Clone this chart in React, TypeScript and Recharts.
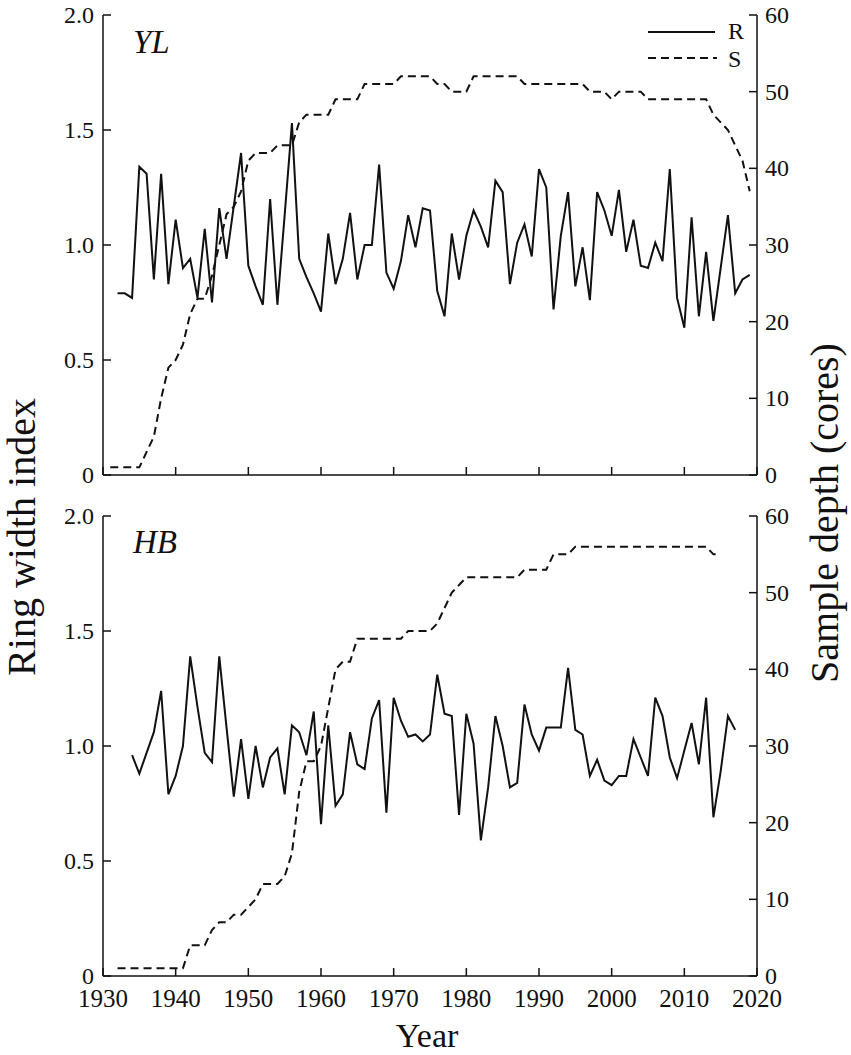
import { ComposedChart, Line, XAxis, YAxis, Legend } from "recharts";

// ring width index (R) and sample depth (S)
const ylRingStart = 1932;
const ylRing = [
  0.79, 0.79, 0.77, 1.34, 1.31, 0.85, 1.31, 0.83, 1.11, 0.9,
  0.94, 0.77, 1.07, 0.75, 1.16, 0.94, 1.17, 1.4, 0.91, 0.82,
  0.74, 1.2, 0.74, 1.13, 1.53, 0.94, 0.86, 0.79, 0.71, 1.05,
  0.83, 0.94, 1.14, 0.85, 1.0, 1.0, 1.35, 0.88, 0.81, 0.93,
  1.13, 0.99, 1.16, 1.15, 0.8, 0.69, 1.05, 0.85, 1.04, 1.15,
  1.08, 0.99, 1.28, 1.23, 0.83, 1.01, 1.09, 0.95, 1.33, 1.25,
  0.72, 1.04, 1.23, 0.82, 0.99, 0.76, 1.23, 1.15, 1.04, 1.24,
  0.97, 1.11, 0.91, 0.9, 1.01, 0.93, 1.33, 0.77, 0.64, 1.12,
  0.69, 0.97, 0.67, 0.9, 1.13, 0.79, 0.85, 0.87,
];
const ylDepthStart = 1931;
const ylDepth = [
  1, 1, 1, 1, 1, 3, 5, 10, 14, 15,
  17, 21, 23, 23, 26, 30, 34, 35, 37, 41,
  42, 42, 42, 43, 43, 43, 46, 47, 47, 47,
  47, 49, 49, 49, 49, 51, 51, 51, 51, 51,
  52, 52, 52, 52, 52, 51, 51, 50, 50, 50,
  52, 52, 52, 52, 52, 52, 52, 51, 51, 51,
  51, 51, 51, 51, 51, 51, 50, 50, 50, 49,
  50, 50, 50, 50, 49, 49, 49, 49, 49, 49,
  49, 49, 49, 47, 46, 45, 43, 41, 37,
];

const hbRingStart = 1934;
const hbRing = [
  0.96, 0.88, 0.97, 1.06, 1.24, 0.79, 0.87, 1.0, 1.39, 1.17,
  0.97, 0.93, 1.39, 1.08, 0.78, 1.03, 0.77, 1.0, 0.82, 0.95,
  0.99, 0.79, 1.09, 1.06, 0.96, 1.15, 0.66, 1.09, 0.74, 0.79,
  1.06, 0.92, 0.9, 1.12, 1.2, 0.71, 1.21, 1.11, 1.04, 1.05,
  1.02, 1.05, 1.31, 1.14, 1.13, 0.7, 1.14, 1.01, 0.59, 0.82,
  1.13, 1.0, 0.82, 0.84, 1.18, 1.05, 0.98, 1.08, 1.08, 1.08,
  1.34, 1.07, 1.05, 0.87, 0.94, 0.85, 0.83, 0.87, 0.87, 1.03,
  0.95, 0.87, 1.21, 1.13, 0.95, 0.86, 0.98, 1.1, 0.92, 1.21,
  0.69, 0.89, 1.13, 1.07,
];
const hbDepthStart = 1932;
const hbDepth = [
  1, 1, 1, 1, 1, 1, 1, 1, 1, 1,
  4, 4, 4, 6, 7, 7, 8, 8, 9, 10,
  12, 12, 12, 13, 16, 24, 28, 28, 30, 35,
  40, 41, 41, 44, 44, 44, 44, 44, 44, 44,
  45, 45, 45, 45, 46, 48, 50, 51, 52, 52,
  52, 52, 52, 52, 52, 52, 53, 53, 53, 53,
  55, 55, 55, 56, 56, 56, 56, 56, 56, 56,
  56, 56, 56, 56, 56, 56, 56, 56, 56, 56,
  56, 56, 55, 55,
];

const yearTicks = [1930, 1940, 1950, 1960, 1970, 1980, 1990, 2000, 2010, 2020];
const ringTicks = [0, 0.5, 1, 1.5, 2];
const depthTicks = [0, 10, 20, 30, 40, 50, 60];

const FONT = "Liberation Serif";
const INK = "#111111";

function buildRows(rStart: number, r: number[], sStart: number, s: number[]) {
  const first = Math.min(rStart, sStart);
  const last = Math.max(rStart + r.length, sStart + s.length) - 1;
  const rows = [];
  for (let y = first; y <= last; y++) {
    const ri = y - rStart;
    const si = y - sStart;
    rows.push({
      year: y,
      r: ri >= 0 && ri < r.length ? r[ri] : null,
      s: si >= 0 && si < s.length ? s[si] : null,
    });
  }
  return rows;
}

const ylRows = buildRows(ylRingStart, ylRing, ylDepthStart, ylDepth);
const hbRows = buildRows(hbRingStart, hbRing, hbDepthStart, hbDepth);

const axisLine = { stroke: INK, strokeWidth: 1.5 };

// serif tick text; the formatter decides what is shown
const serifTick = (fmt: (v: number) => string, size: number) => (props: any) => {
  const { x, y, payload, textAnchor, verticalAnchor } = props;
  const dy = verticalAnchor === "start" ? "0.71em" : verticalAnchor === "end" ? "0" : "0.34em";
  return (
    <text x={x} y={y} dy={dy} textAnchor={textAnchor} fontFamily={FONT} fontSize={size} fill={INK}>
      {fmt(payload.value)}
    </text>
  );
};

function LegendBox() {
  return (
    <svg width={130} height={64} style={{ display: "block" }}>
      <line x1={8} x2={75} y1={17} y2={17} stroke={INK} strokeWidth={2} />
      <text x={88} y={24} fontSize={24} fontFamily={FONT} fill={INK}>R</text>
      <line x1={8} x2={77} y1={43} y2={43} stroke={INK} strokeWidth={2} strokeDasharray="8 5" />
      <text x={88} y={52} fontSize={24} fontFamily={FONT} fill={INK}>S</text>
    </svg>
  );
}

function Panel({
  rows,
  top,
  height,
  margin,
  xAxisHeight,
  showYears,
  showLegend,
}: {
  rows: any[];
  top: number;
  height: number;
  margin: { top: number; bottom: number };
  xAxisHeight: number;
  showYears: boolean;
  showLegend: boolean;
}) {
  return (
    <div style={{ position: "absolute", left: 0, top }}>
      <ComposedChart
        width={851}
        height={height}
        data={rows}
        margin={{ top: margin.top, bottom: margin.bottom, left: 0, right: 0 }}
      >
        <XAxis
          dataKey="year"
          type="number"
          domain={[1930, 2020]}
          ticks={yearTicks}
          interval={0}
          height={xAxisHeight}
          tickSize={-8}
          tickMargin={21}
          axisLine={axisLine}
          tickLine={axisLine}
          tick={serifTick((v) => (showYears ? String(v) : ""), 25)}
        />
        <YAxis
          yAxisId="left"
          orientation="left"
          width={103}
          domain={[0, 2]}
          ticks={ringTicks}
          interval={0}
          tickSize={-8}
          tickMargin={17}
          axisLine={axisLine}
          tickLine={axisLine}
          tick={serifTick((v) => (v === 0 ? "0" : v.toFixed(1)), 24)}
        />
        <YAxis
          yAxisId="right"
          orientation="right"
          width={94}
          domain={[0, 60]}
          ticks={depthTicks}
          interval={0}
          tickSize={-8}
          tickMargin={16}
          axisLine={axisLine}
          tickLine={axisLine}
          tick={serifTick((v) => String(v), 24)}
        />
        {showLegend && (
          <Legend
            layout="vertical"
            align="center"
            verticalAlign="middle"
            content={() => <LegendBox />}
            wrapperStyle={{ top: 15, left: 640, width: 130, height: 64 }}
          />
        )}
        <Line
          yAxisId="left"
          dataKey="r"
          type="linear"
          stroke={INK}
          strokeWidth={2}
          dot={false}
          activeDot={false}
          isAnimationActive={false}
        />
        <Line
          yAxisId="right"
          dataKey="s"
          type="linear"
          stroke={INK}
          strokeWidth={2}
          strokeDasharray="8 5"
          dot={false}
          activeDot={false}
          isAnimationActive={false}
        />
      </ComposedChart>
    </div>
  );
}

export default function App() {
  return (
    <div style={{ position: "absolute", left: 0, top: 0, width: 851, height: 1055, background: "#fff" }}>
      <Panel
        rows={ylRows}
        top={0}
        height={490}
        margin={{ top: 15, bottom: 0 }}
        xAxisHeight={15}
        showYears={false}
        showLegend
      />
      <Panel
        rows={hbRows}
        top={490}
        height={565}
        margin={{ top: 26, bottom: 39 }}
        xAxisHeight={40}
        showYears
        showLegend={false}
      />
      <svg
        width={851}
        height={1055}
        style={{ position: "absolute", left: 0, top: 0, pointerEvents: "none" }}
        fontFamily={FONT}
      >
        <text x={133} y={53} fontSize={33} fontStyle="italic" fill={INK}>YL</text>
        <text x={133} y={553} fontSize={33} fontStyle="italic" fill={INK}>HB</text>
        <text x={427} y={1047} fontSize={34} textAnchor="middle" fill={INK}>Year</text>
        <text transform="translate(35,537) rotate(-90)" fontSize={40} textAnchor="middle" fill={INK}>
          Ring width index
        </text>
        <text transform="translate(838,513) rotate(-90)" fontSize={40} textAnchor="middle" fill={INK}>
          Sample depth (cores)
        </text>
      </svg>
    </div>
  );
}
